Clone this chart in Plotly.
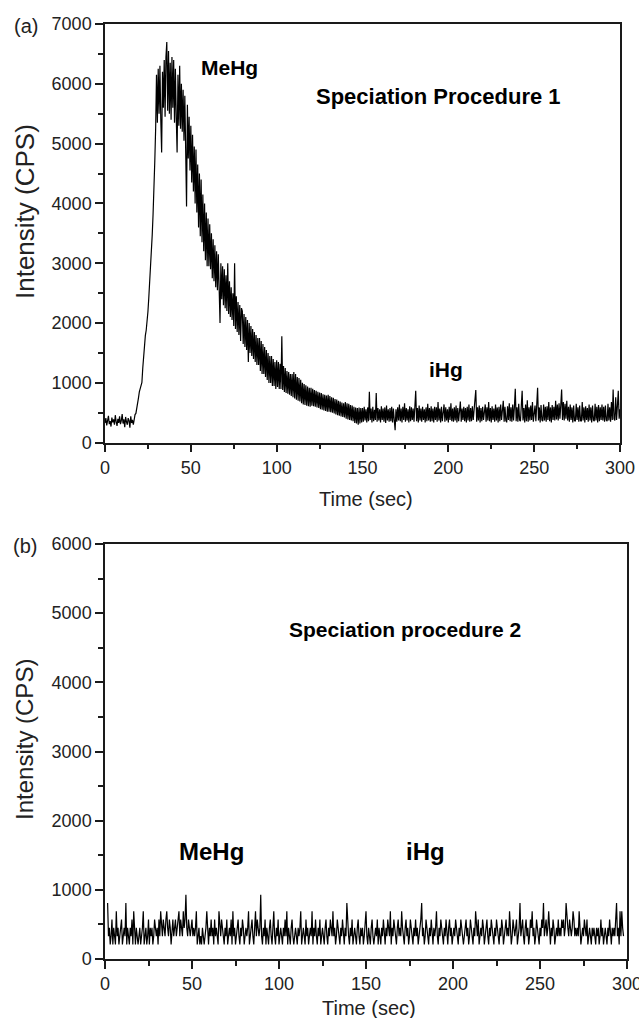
import numpy as np
import plotly.graph_objects as go

# ---------------- data ----------------
# Panel (a): Speciation Procedure 1, intensity (CPS) sampled every 0.5 s from t = 0 s
intensity_a = [
    330, 410, 290, 380, 450, 310, 360, 270, 420, 340, 390, 300, 460, 350, 280, 400, 330, 440, 310, 370,
    480, 320, 390, 260, 430, 350, 300, 410, 370, 250, 440, 330, 380, 300, 420, 470, 490, 560, 640, 750,
    850, 910, 960, 1010, 1250, 1460, 1600, 1790, 1880, 2010, 2190, 2420, 2640, 2920, 3140, 3470, 3820, 4180, 4700, 5250,
    6150, 5350, 6250, 5500, 6300, 5400, 4850, 6200, 5600, 6400, 5450, 6450, 6700, 5550, 6550, 5500, 6350, 5400, 6450, 5600,
    6400, 5350, 6250, 5450, 4850, 6150, 5300, 6300, 5250, 6000, 5200, 5900, 5050, 5800, 4950, 3950, 5650, 4750, 5450, 4550,
    5300, 4350, 5150, 4200, 4950, 4000, 4900, 3850, 4650, 3600, 4500, 3450, 4400, 3350, 4150, 3200, 4000, 3050, 3850, 2950,
    3750, 2950, 3650, 2900, 3500, 2750, 3400, 2700, 3300, 2600, 3200, 2550, 3150, 2450, 2000, 3000, 2400, 2950, 2300, 2900,
    2250, 2800, 2200, 3000, 2150, 2700, 2100, 2600, 2050, 2500, 1950, 3000, 1900, 2450, 1850, 2350, 1800, 2300, 1700, 2250,
    2200, 1650, 2150, 1600, 2100, 1550, 2050, 1350, 2000, 1500, 1950, 1450, 1900, 1400, 1850, 1350, 1800, 1300, 1750, 1300,
    1750, 1200, 1700, 1150, 1650, 1150, 1600, 1100, 1550, 1050, 1500, 1000, 1450, 1000, 1450, 950, 1400, 950, 1350, 900,
    1380, 930, 1350, 900, 1320, 900, 1780, 880, 1280, 850, 1250, 830, 1200, 820, 1180, 800, 1150, 780, 1150, 760,
    1180, 740, 1150, 720, 1100, 700, 1080, 690, 1050, 660, 1000, 640, 980, 630, 960, 620, 940, 610, 920, 600,
    920, 620, 900, 610, 880, 600, 870, 590, 850, 580, 840, 560, 830, 550, 810, 540, 800, 530, 790, 520,
    800, 520, 780, 510, 760, 500, 750, 490, 730, 470, 720, 460, 700, 450, 690, 440, 670, 430, 660, 420,
    680, 400, 660, 390, 650, 380, 630, 370, 620, 360, 600, 330, 590, 320, 580, 300, 590, 320, 580, 340,
    580, 350, 600, 370, 560, 340, 590, 360, 850, 380, 570, 340, 600, 360, 550, 380, 830, 350, 580, 370,
    560, 340, 610, 380, 570, 350, 590, 330, 620, 370, 560, 350, 580, 360, 600, 340, 570, 380, 210, 560,
    350, 590, 370, 640, 360, 570, 340, 600, 380, 660, 350, 580, 370, 560, 340, 610, 360, 590, 380, 570,
    350, 600, 870, 360, 580, 340, 620, 370, 570, 350, 600, 380, 560, 340, 590, 360, 650, 370, 580, 350,
    610, 360, 570, 340, 600, 380, 590, 350, 680, 370, 570, 340, 600, 360, 560, 640, 350, 590, 370, 560,
    340, 600, 380, 660, 360, 570, 350, 590, 370, 620, 340, 580, 360, 600, 690, 350, 570, 380, 600, 360,
    580, 340, 600, 370, 640, 350, 580, 360, 610, 380, 570, 650, 880, 350, 590, 370, 620, 340, 580, 360,
    600, 380, 570, 640, 350, 590, 370, 680, 360, 580, 340, 610, 380, 570, 350, 640, 370, 590, 340, 600,
    360, 640, 380, 570, 700, 350, 600, 370, 340, 610, 380, 660, 360, 590, 350, 640, 370, 600, 900, 360,
    590, 350, 650, 380, 360, 610, 870, 370, 580, 340, 640, 360, 710, 350, 590, 370, 620, 380, 680, 350,
    580, 620, 360, 660, 920, 370, 590, 340, 630, 380, 360, 640, 370, 600, 350, 610, 380, 680, 360, 590,
    340, 630, 380, 600, 370, 700, 390, 640, 370, 660, 400, 630, 890, 380, 680, 370, 650, 400, 700, 370,
    600, 350, 640, 380, 590, 340, 620, 370, 360, 650, 380, 590, 350, 620, 370, 360, 680, 370, 590, 340,
    610, 380, 580, 350, 640, 370, 590, 340, 620, 380, 360, 650, 370, 600, 340, 630, 360, 590, 380, 640,
    370, 600, 350, 620, 380, 360, 650, 370, 590, 350, 680, 380, 890, 400, 370, 760, 380, 620, 870, 400,
    560,
]

# Panel (b): Speciation procedure 2, intensity (CPS) sampled every 0.5 s from t = 1.5 s
intensity_b = [
    810, 330, 450, 210, 330, 570, 210, 450, 330, 210, 690, 330, 450, 210, 330, 450, 570, 210, 330, 450,
    330, 810, 210, 450, 330, 210, 450, 330, 570, 210, 690, 330, 210, 450, 330, 210, 330, 450, 210, 330,
    450, 690, 210, 330, 450, 210, 330, 570, 210, 450, 330, 450, 210, 330, 570, 450, 330, 450, 210, 570,
    330, 690, 450, 330, 570, 450, 330, 570, 690, 450, 330, 570, 450, 210, 450, 570, 330, 450, 570, 330,
    450, 570, 690, 330, 570, 450, 330, 690, 450, 570, 930, 450, 330, 570, 450, 330, 450, 570, 330, 450,
    330, 450, 690, 210, 330, 450, 210, 330, 210, 450, 330, 210, 330, 450, 690, 330, 210, 450, 330, 570,
    330, 450, 210, 570, 330, 450, 330, 210, 690, 450, 330, 570, 450, 330, 210, 450, 330, 570, 210, 330,
    450, 330, 570, 210, 690, 330, 450, 210, 330, 450, 570, 330, 210, 450, 330, 570, 450, 210, 330, 450,
    330, 450, 690, 210, 330, 450, 570, 330, 210, 450, 690, 330, 570, 450, 330, 450, 930, 330, 210, 450,
    330, 570, 210, 450, 330, 210, 450, 570, 330, 210, 450, 690, 330, 210, 450, 330, 570, 210, 330, 450,
    330, 210, 450, 330, 570, 330, 690, 210, 450, 330, 210, 450, 570, 330, 210, 330, 450, 330, 210, 450,
    330, 450, 690, 210, 330, 450, 330, 210, 570, 330, 450, 210, 330, 450, 330, 690, 210, 450, 330, 570,
    330, 210, 450, 330, 570, 210, 330, 450, 330, 210, 450, 570, 330, 210, 450, 330, 570, 450, 330, 690,
    330, 450, 210, 330, 570, 450, 330, 210, 450, 330, 570, 330, 210, 450, 330, 810, 450, 330, 210, 450,
    330, 570, 210, 330, 450, 330, 210, 450, 570, 330, 210, 450, 330, 450, 210, 330, 570, 690, 330, 210,
    450, 330, 210, 450, 570, 330, 210, 330, 450, 330, 570, 210, 450, 330, 210, 450, 330, 570, 330, 210,
    450, 330, 570, 450, 330, 690, 210, 450, 330, 570, 450, 330, 210, 450, 570, 330, 450, 330, 690, 450,
    330, 210, 450, 570, 330, 450, 210, 330, 570, 450, 330, 210, 450, 330, 570, 330, 450, 210, 330, 450,
    570, 810, 330, 450, 210, 330, 570, 450, 330, 210, 450, 330, 570, 330, 210, 450, 330, 450, 690, 330,
    210, 450, 330, 570, 450, 330, 210, 450, 330, 570, 330, 210, 450, 570, 330, 450, 210, 330, 450, 330,
    570, 450, 330, 210, 450, 330, 570, 450, 330, 210, 330, 450, 570, 330, 450, 210, 330, 570, 450, 330,
    210, 450, 330, 690, 450, 330, 570, 210, 330, 450, 330, 570, 450, 210, 330, 450, 570, 330, 210, 450,
    330, 570, 450, 330, 210, 450, 330, 570, 450, 330, 210, 450, 330, 570, 450, 210, 330, 450, 570, 330,
    450, 330, 690, 450, 210, 330, 570, 450, 330, 450, 570, 210, 330, 450, 810, 330, 450, 570, 330, 210,
    450, 570, 330, 450, 210, 330, 570, 450, 690, 330, 450, 210, 330, 570, 450, 330, 210, 450, 330, 570,
    450, 810, 330, 450, 570, 330, 450, 690, 330, 210, 450, 330, 570, 450, 210, 330, 450, 330, 570, 330,
    450, 330, 570, 450, 570, 330, 450, 810, 570, 450, 330, 570, 450, 330, 450, 690, 570, 330, 450, 330,
    450, 330, 690, 450, 210, 330, 450, 330, 570, 450, 330, 570, 210, 330, 450, 330, 210, 450, 330, 450,
    330, 210, 450, 330, 450, 210, 330, 570, 330, 450, 210, 330, 450, 330, 210, 450, 330, 570, 330, 210,
    450, 330, 450, 330, 570, 810, 330, 450, 210, 690, 330, 690, 450, 330,
]

START_A = 0.0
START_B = 1.5
STEP = 0.5

x_ticks = [0, 50, 100, 150, 200, 250, 300]
y_ticks_a = [0, 1000, 2000, 3000, 4000, 5000, 6000, 7000]
y_ticks_b = [0, 1000, 2000, 3000, 4000, 5000, 6000]

time_a = START_A + STEP * np.arange(len(intensity_a))
time_b = START_B + STEP * np.arange(len(intensity_b))

# ---------------- figure ----------------
W, H = 639, 1018
FONT = "Liberation Sans, Arial, Helvetica, sans-serif"
AX = "#1a1a1a"

fig = go.Figure()
fig.add_trace(go.Scatter(x=time_a, y=intensity_a, mode="lines",
                         line=dict(color="black", width=1.2), xaxis="x", yaxis="y",
                         hoverinfo="skip"))
fig.add_trace(go.Scatter(x=time_b, y=intensity_b, mode="lines",
                         line=dict(color="black", width=1.2), xaxis="x2", yaxis="y2",
                         hoverinfo="skip"))


def px_x(p):
    return p / W


def px_y(p):
    return 1 - p / H


common_axis = dict(
    showline=True, linecolor=AX, linewidth=1.5, mirror=True,
    ticks="outside", ticklen=8, tickwidth=1.5, tickcolor=AX,
    showgrid=False, zeroline=False, automargin=False,
    ticklabeloverflow="allow",
    tickfont=dict(family=FONT, size=18, color="#222"),
)

fig.update_layout(
    width=W, height=H,
    margin=dict(l=0, r=0, t=0, b=0, autoexpand=False),
    paper_bgcolor="white", plot_bgcolor="white",
    showlegend=False,
    font=dict(family=FONT, color="#222"),
    xaxis=dict(domain=[px_x(105), px_x(620)], anchor="y", range=[0, 300],
               tickvals=x_ticks,
               minor=dict(ticks="outside", ticklen=5, tickwidth=1.5, tickcolor=AX, dtick=25, tick0=0),
               **common_axis),
    yaxis=dict(domain=[px_y(442.7), px_y(24)], anchor="x", range=[0, 7000],
               tickvals=y_ticks_a, tickformat="d",
               minor=dict(ticks="outside", ticklen=5, tickwidth=1.5, tickcolor=AX, dtick=500, tick0=0),
               **common_axis),
    xaxis2=dict(domain=[px_x(105), px_x(627)], anchor="y2", range=[0, 300],
                tickvals=x_ticks,
                minor=dict(ticks="outside", ticklen=5, tickwidth=1.5, tickcolor=AX, dtick=25, tick0=0),
                **common_axis),
    yaxis2=dict(domain=[px_y(959), px_y(544)], anchor="x2", range=[0, 6000],
                tickvals=y_ticks_b, tickformat="d",
                minor=dict(ticks="outside", ticklen=5, tickwidth=1.5, tickcolor=AX, dtick=500, tick0=0),
                **common_axis),
)

bold = lambda s: dict(family=FONT, size=s, color="black", weight="bold")
plain = lambda s: dict(family=FONT, size=s, color="#222")

annotations = [
    # in-plot labels, panel (a)
    dict(x=72.8, y=6281, xref="x", yref="y", text="MeHg", showarrow=False, font=bold(21)),
    dict(x=194.4, y=5780, xref="x", yref="y", text="Speciation Procedure 1", showarrow=False, font=bold(22)),
    dict(x=198.9, y=1232, xref="x", yref="y", text="iHg", showarrow=False, font=bold(21)),
    # in-plot labels, panel (b)
    dict(x=61.1, y=1551, xref="x2", yref="y2", text="MeHg", showarrow=False, font=bold(24)),
    dict(x=184.4, y=1551, xref="x2", yref="y2", text="iHg", showarrow=False, font=bold(24)),
    dict(x=172.4, y=4757, xref="x2", yref="y2", text="Speciation procedure 2", showarrow=False, font=bold(21)),
    # panel letters
    dict(x=px_x(25.5), y=px_y(26), xref="paper", yref="paper", text="(a)", showarrow=False, font=plain(20)),
    dict(x=px_x(25), y=px_y(546), xref="paper", yref="paper", text="(b)", showarrow=False, font=plain(20)),
    # axis titles
    dict(x=px_x(25), y=px_y(212), xref="paper", yref="paper", text="Intensity (CPS)", textangle=-90,
         showarrow=False, font=plain(26)),
    dict(x=px_x(24), y=px_y(740), xref="paper", yref="paper", text="Intensity (CPS)", textangle=-90,
         showarrow=False, font=plain(24)),
    dict(x=px_x(366), y=px_y(499), xref="paper", yref="paper", text="Time (sec)",
         showarrow=False, font=plain(20)),
    dict(x=px_x(369), y=px_y(1008), xref="paper", yref="paper", text="Time (sec)",
         showarrow=False, font=plain(20)),
]
for a in annotations:
    a.setdefault("xanchor", "center")
    a.setdefault("yanchor", "middle")
fig.update_layout(annotations=annotations)

fig.write_html("out.html")
